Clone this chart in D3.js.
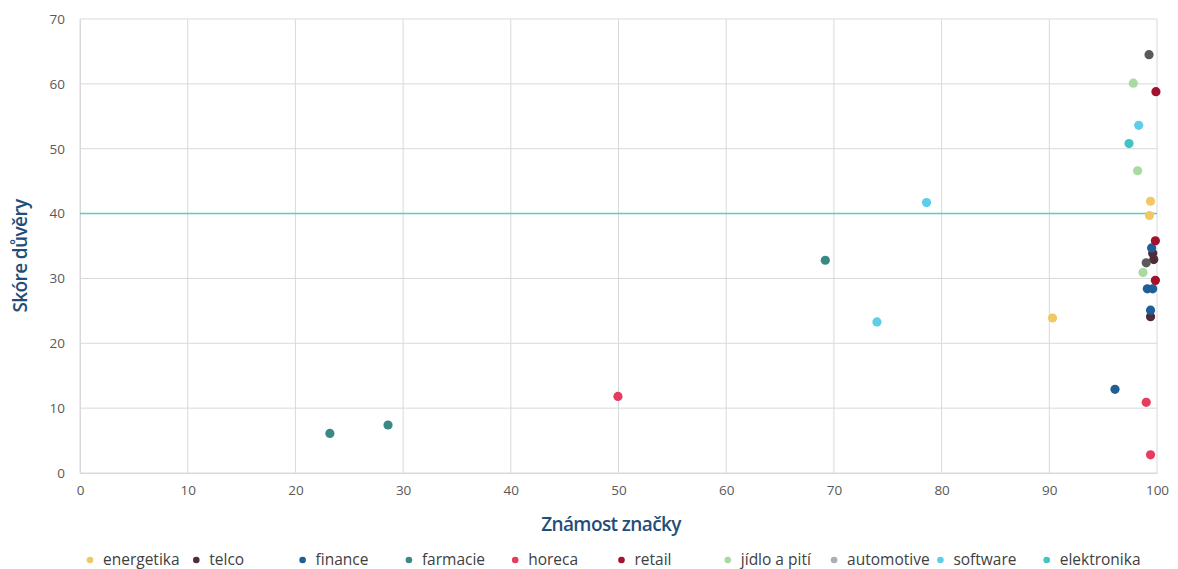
<!DOCTYPE html>
<html>
<head>
<meta charset="utf-8">
<script src="https://cdn.jsdelivr.net/npm/d3@7"></script>
<style>
  html, body { margin: 0; padding: 0; background: #fff; }
  svg { display: block; font-family: "Open Sans", "Noto Sans", sans-serif; }
</style>
</head>
<body>
<svg id="chart" width="1178" height="569"></svg>
<script>
// Sector names (legend order)
const sectors = ["energetika", "telco", "finance", "farmacie", "horeca", "retail",
                 "jídlo a pití", "automotive", "software", "elektronika"];

// Brand awareness (x) and trust score (y) per sector
const energetikaX = [99.4, 99.3, 90.3];
const energetikaY = [41.9, 39.7, 23.9];
const telcoX = [99.6, 99.7, 99.4];
const telcoY = [33.9, 32.9, 24.1];
const financeX = [99.5, 99.1, 99.6, 99.4, 96.1];
const financeY = [34.7, 28.4, 28.4, 25.1, 12.9];
const farmacieX = [69.2, 28.6, 23.2];
const farmacieY = [32.8, 7.4, 6.1];
const horecaX = [49.95, 99.0, 99.4];
const horecaY = [11.8, 10.9, 2.8];
const retailX = [99.9, 99.85, 99.85];
const retailY = [58.8, 35.8, 29.7];
const jidloX = [97.8, 98.2, 98.7];
const jidloY = [60.1, 46.6, 30.9];
const automotiveX = [];
const automotiveY = [];
const softwareX = [98.3, 78.6, 74.0];
const softwareY = [53.6, 41.7, 23.3];
const elektronikaX = [97.4];
const elektronikaY = [50.8];
// Unassigned brands (no legend entry)
const ostatniX = [99.26, 99.0];
const ostatniY = [64.5, 32.4];

const thresholdY = 40;

const xTicks = [0, 10, 20, 30, 40, 50, 60, 70, 80, 90, 100];
const yTicks = [0, 10, 20, 30, 40, 50, 60, 70];

const colors = ["#F1C864", "#512B3C", "#1F5F96", "#3A8985", "#E63D5E", "#A2112E",
                "#A7DBA0", "#A8AFB7", "#5DCDE8", "#40C6C2"];
const otherColor = "#5A5A5A";

const seriesX = [energetikaX, telcoX, financeX, farmacieX, horecaX, retailX,
                 jidloX, automotiveX, softwareX, elektronikaX];
const seriesY = [energetikaY, telcoY, financeY, farmacieY, horecaY, retailY,
                 jidloY, automotiveY, softwareY, elektronikaY];

const svg = d3.select("#chart");
const margin = { left: 80, right: 21, top: 19, bottom: 96 };
const W = 1178, H = 569;

const x = d3.scaleLinear().domain([0, 100]).range([margin.left, W - margin.right]);
const y = d3.scaleLinear().domain([0, 70]).range([H - margin.bottom, margin.top]);

// gridlines
const grid = svg.append("g");
grid.selectAll("line.v").data(xTicks).join("line")
  .attr("x1", d => x(d)).attr("x2", d => x(d))
  .attr("y1", y(0)).attr("y2", y(70))
  .attr("stroke", "#D9D9D9").attr("stroke-width", 1);
grid.selectAll("line.h").data(yTicks).join("line")
  .attr("x1", x(0)).attr("x2", x(100))
  .attr("y1", d => y(d)).attr("y2", d => y(d))
  .attr("stroke", "#D9D9D9").attr("stroke-width", 1);

// axes
const xAxis = svg.append("g")
  .attr("transform", `translate(0,${y(0)})`)
  .call(d3.axisBottom(x).tickValues(xTicks).tickSize(0).tickPadding(12));
const yAxis = svg.append("g")
  .attr("transform", `translate(${x(0)},0)`)
  .call(d3.axisLeft(y).tickValues(yTicks).tickSize(0).tickPadding(15));
[xAxis, yAxis].forEach(a => {
  a.select(".domain").attr("stroke", "#D9D9D9");
  a.selectAll("text").attr("fill", "#595959").style("font-size", "13.5px")
    .style("font-family", "'Open Sans', sans-serif");
});

// threshold line
svg.append("line")
  .attr("x1", x(0)).attr("x2", x(100))
  .attr("y1", y(thresholdY)).attr("y2", y(thresholdY))
  .attr("stroke", "#55CEC5").attr("stroke-width", 1.4);

// points
const pts = [];
seriesX.forEach((xs, i) => xs.forEach((v, j) => pts.push({ x: v, y: seriesY[i][j], c: colors[i] })));
ostatniX.forEach((v, j) => pts.push({ x: v, y: ostatniY[j], c: otherColor }));
svg.append("g").selectAll("circle").data(pts).join("circle")
  .attr("cx", d => x(d.x)).attr("cy", d => y(d.y)).attr("r", 4.6)
  .attr("fill", d => d.c);

// axis titles
svg.append("text")
  .attr("x", 611).attr("y", 531)
  .attr("text-anchor", "middle")
  .attr("fill", "#1F4E79").style("font-size", "19px").style("font-weight", 600)
  .style("letter-spacing", "-0.6px")
  .text("Známost značky");
svg.append("text")
  .attr("transform", "translate(27,256) rotate(-90)")
  .attr("text-anchor", "middle")
  .attr("fill", "#1F4E79").style("font-size", "19px").style("font-weight", 600)
  .style("letter-spacing", "-0.6px")
  .text("Skóre důvěry");

// legend: equal-width columns
const legendStart = 103, legendCol = 106.3;
const lg = svg.append("g").selectAll("g").data(sectors).join("g")
  .attr("transform", (d, i) => `translate(${legendStart + i * legendCol},560)`);
lg.append("circle").attr("cx", -13).attr("r", 3.3).attr("fill", (d, i) => colors[i]);
lg.append("text").attr("dy", "0.35em")
  .attr("fill", "#404040").style("font-size", "15.5px")
  .text(d => d);
</script>
</body>
</html>
